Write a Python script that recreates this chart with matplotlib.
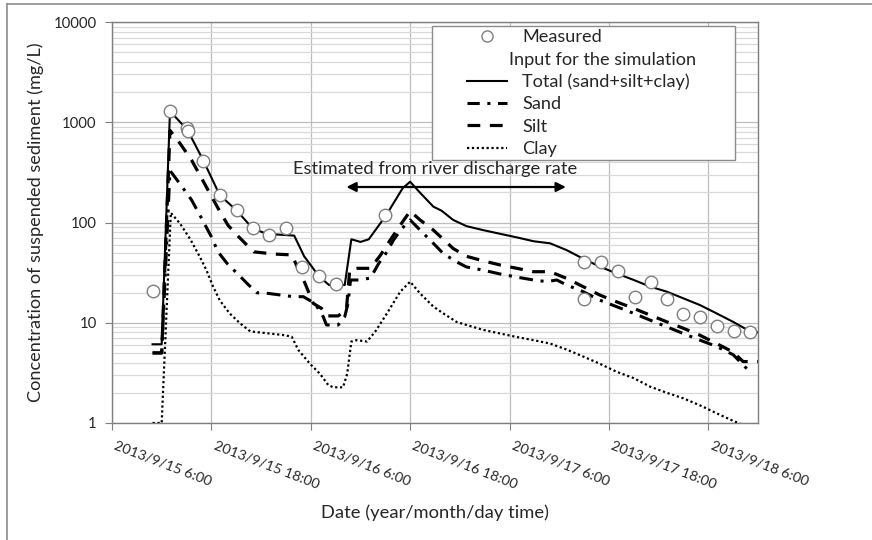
import matplotlib
matplotlib.use('Agg')
import matplotlib.pyplot as plt
from matplotlib.lines import Line2D
from matplotlib.patches import Rectangle
from matplotlib.ticker import FixedLocator, LogLocator, NullFormatter
import matplotlib.transforms as mtransforms

plt.rcParams['font.family'] = ['Lato', 'DejaVu Sans']

# time axis: hours since 2013/9/15 6:00
tick_hours = [0, 12, 24, 36, 48, 60, 72]
tick_labels = ['2013/9/15 6:00', '2013/9/15 18:00', '2013/9/16 6:00', '2013/9/16 18:00',
               '2013/9/17 6:00', '2013/9/17 18:00', '2013/9/18 6:00']
y_ticks = [1, 10, 100, 1000, 10000]
y_tick_labels = ['1', '10', '100', '1000', '10000']

meas_h = [5.0, 7.0, 9.0, 9.2, 11.0, 13.0, 15.1, 17.0, 19.0, 21.0, 23.0, 25.0, 27.1, 33.0,
          57.0, 57.0, 59.0, 61.1, 63.1, 65.1, 67.0, 69.0, 71.0, 73.1, 75.1, 77.0]
meas_v = [20.7, 1295, 880, 810, 411, 188, 133, 88, 75, 88, 36, 29, 24.4, 119,
          40.4, 17.4, 40.4, 32.6, 18.2, 25.5, 17.4, 12.2, 11.3, 9.3, 8.3, 8.0]

total_h = [4.9, 6.0, 7.0, 9.1, 11.0, 13.0, 15.0, 17.0, 18.7, 22.0, 23.2, 25.0, 26.2, 28.1,
           28.9, 30.0, 31.0, 33.1, 35.1, 36.0, 37.2, 38.8, 39.8, 41.2, 42.8, 44.8, 46.9,
           48.9, 50.9, 52.9, 54.9, 56.9, 58.9, 60.9, 63.0, 65.0, 67.0, 69.0, 71.0, 73.0,
           75.0, 76.7, 78.0]
total_v = [6.1, 6.1, 1290, 840, 420, 188, 133, 87, 77, 74, 46, 29, 23.8, 23.8,
           68, 64, 68, 118, 220, 255, 198, 144, 131, 106, 92, 84, 77,
           71, 65, 62, 53, 43.5, 36.3, 31.1, 26.7, 22.9, 20.4, 17.5, 15.0, 12.4,
           10.2, 8.5, 8.0]

silt_h = [4.9, 6.0, 7.0, 8.2, 9.6, 10.6, 11.8, 12.8, 14.0, 15.3, 17.1, 19.5, 21.7, 22.6,
          23.3, 24.3, 25.3, 25.9, 27.3, 28.3, 28.7, 29.6, 31.2, 32.4, 33.6, 34.8, 36.0,
          37.2, 38.8, 40.0, 41.2, 42.8, 44.8, 46.9, 48.9, 50.9, 52.9, 54.9, 56.9, 58.9,
          60.9, 63.0, 65.0, 67.0, 69.0, 71.0, 73.0, 75.0, 76.2, 78.0]
silt_v = [5.0, 5.0, 830, 617, 420, 298, 196, 139, 94, 72, 51, 48.5, 47.5, 33,
          24.8, 15.6, 13.9, 11.7, 11.7, 13.4, 33.6, 34.9, 34.9, 47, 67, 94, 130,
          106, 84, 68, 55, 46, 41.5, 37.6, 34.9, 32.3, 32.3, 27.7, 22.9, 18.9,
          16.2, 13.9, 11.9, 10.2, 8.8, 7.5, 6.2, 5.1, 4.1, 4.1]

sand_h = [4.9, 6.0, 7.0, 8.4, 9.6, 10.6, 12.0, 12.8, 13.9, 15.3, 16.5, 17.5, 18.9, 21.9,
          23.1, 24.5, 25.5, 25.9, 27.3, 28.1, 28.5, 28.8, 29.8, 31.2, 32.2, 33.2, 34.0,
          35.0, 36.0, 37.2, 38.8, 40.0, 41.6, 42.8, 44.8, 46.9, 48.9, 50.9, 52.5, 53.7,
          54.9, 56.9, 58.9, 60.9, 63.0, 65.0, 67.0, 69.0, 71.0, 73.0, 75.0, 77.0]
sand_v = [5.0, 5.0, 330, 231, 168, 119, 72, 51, 39, 30, 23.8, 19.9, 19.6, 18.2,
          18.2, 15.6, 11.5, 9.5, 9.5, 11.5, 15.6, 26.7, 26.7, 27.9, 39, 51, 67,
          87, 106, 84, 62, 49, 40.5, 36, 33.5, 30.6, 28.5, 26.7, 25.7, 26.7,
          23.8, 20.4, 16.8, 14.5, 12.4, 10.6, 9.1, 7.8, 6.7, 5.8, 4.8, 3.25]

clay_h = [4.9, 6.0, 7.1, 8.2, 9.5, 10.6, 11.4, 12.2, 13.0, 14.2, 15.5, 16.7, 19.1, 20.9,
          21.7, 22.5, 23.9, 25.1, 26.1, 26.7, 27.9, 28.4, 28.9, 29.5, 30.8, 31.8, 33.2,
          34.8, 36.0, 37.2, 38.8, 40.0, 41.6, 42.8, 44.8, 46.9, 48.9, 50.9, 52.9, 54.9,
          56.9, 58.9, 60.9, 63.0, 65.0, 67.0, 69.0, 71.0, 73.0, 75.0, 76.0]
clay_v = [1.0, 1.0, 125, 98, 67, 45.5, 33.5, 23, 16.8, 12.4, 9.8, 8.2, 7.8, 7.5,
          7.25, 5.35, 3.9, 3.1, 2.4, 2.27, 2.27, 3.1, 6.5, 6.7, 6.5, 8.2, 12.4,
          20.4, 25.7, 19.6, 14.5, 12.4, 10.2, 9.5, 8.5, 7.8, 7.2, 6.7, 6.2, 5.4,
          4.6, 3.9, 3.25, 2.8, 2.3, 2.0, 1.76, 1.5, 1.25, 1.05, 0.97]

arrow_h = [28.3, 54.8]
arrow_v = 226
note_h = 39.0
note_v = 340

fig = plt.figure(figsize=(8.72, 5.40), dpi=100)
ax = fig.add_axes([112/872, 1-423/540, (758-112)/872, (423-22)/540])

ax.set_yscale('log')
ax.set_ylim(1, 10000)
ax.set_xlim(0, 78)

ax.yaxis.set_major_locator(FixedLocator(y_ticks))
ax.set_yticklabels(y_tick_labels)
ax.yaxis.set_minor_locator(LogLocator(base=10, subs=range(2, 10)))
ax.yaxis.set_minor_formatter(NullFormatter())
ax.set_xticks(tick_hours)
ax.set_xticklabels(tick_labels, rotation=-21, ha='left', va='top', rotation_mode='anchor')

ax.grid(which='minor', axis='y', color='#d9d9d9', lw=0.9)
ax.grid(which='major', axis='y', color='#bdbdbd', lw=0.9)
ax.grid(which='major', axis='x', color='#bdbdbd', lw=0.9)
ax.set_axisbelow(True)
ax.tick_params(which='minor', length=0)
ax.tick_params(which='major', length=5, color='#7f7f7f', labelcolor='#262626')
ax.tick_params(axis='y', pad=6, labelsize=10.7)
ax.tick_params(axis='x', pad=7, labelsize=10.4)
for lab in ax.get_xticklabels():
    lab.set_transform(lab.get_transform() + mtransforms.ScaledTranslation(5/100, 0, fig.dpi_scale_trans))
for s in ax.spines.values():
    s.set_color('#7f7f7f')
    s.set_linewidth(1.0)

ax.plot(total_h, total_v, color='black', lw=1.5, zorder=3)
ax.plot(sand_h, sand_v, color='black', lw=2.2, dashes=(4.5, 2.5, 1, 2.5), zorder=3)
ax.plot(silt_h, silt_v, color='black', lw=2.3, dashes=(4, 3), zorder=3)
ax.plot(clay_h, clay_v, color='black', lw=1.6, dashes=(1, 1.2), zorder=3)
ax.plot(meas_h, meas_v, ls='none', marker='o', ms=9, mfc='white', mec='#7f7f7f', mew=1.0, zorder=4)

ax.annotate('', xy=(arrow_h[0], arrow_v), xytext=(arrow_h[1], arrow_v),
            arrowprops=dict(arrowstyle='<|-|>', color='black', lw=1.6, mutation_scale=14,
                            shrinkA=0, shrinkB=0), zorder=5)
ax.text(note_h, note_v, 'Estimated from river discharge rate', ha='center', va='center',
        fontsize=13.2, color='#262626', zorder=5)

ylab = ax.set_ylabel('Concentration of suspended sediment (mg/L)', fontsize=13.1, color='#262626')
ax.yaxis.set_label_coords(-(112-27)/646, 0.5)
ylab.set_va('top')
ax.set_xlabel('Date (year/month/day time)', fontsize=13.2, color='#262626')
ax.xaxis.set_label_coords((435-112)/646, (423-504)/401)

# legend
box = Rectangle(((432-112)/646, (423-160)/401), (735-432)/646, (160-26)/401,
                transform=ax.transAxes, facecolor='white', edgecolor='#8c8c8c', lw=1.0, zorder=6)
ax.add_patch(box)
handles = [
    Line2D([], [], ls='none', marker='o', ms=8, mfc='white', mec='#7f7f7f'),
    Line2D([], [], ls='none'),
    Line2D([], [], color='black', lw=1.5),
    Line2D([], [], color='black', lw=2.2, dashes=(4, 2.5, 1, 2.5)),
    Line2D([], [], color='black', lw=2.3, dashes=(4, 3)),
    Line2D([], [], color='black', lw=1.6, dashes=(1, 1.2)),
]
labels = ['Measured', ' ', 'Total (sand+silt+clay)', 'Sand', 'Silt', 'Clay']
leg = ax.legend(handles, labels, loc='upper left', bbox_to_anchor=((467-112)/646, (423-29)/401),
                frameon=False, borderpad=0, borderaxespad=0, handlelength=2.2, handletextpad=0.85,
                labelspacing=0.345, fontsize=13.1)
leg.set_zorder(7)
for t in leg.get_texts():
    t.set_color('#262626')
ax.text((509-112)/646, (423-60)/401, 'Input for the simulation', transform=ax.transAxes,
        ha='left', va='center', fontsize=13.1, color='#262626', zorder=8)

# figure border (top and left)
fig.add_artist(Line2D([7/872, 1], [1-4/540, 1-4/540], color='#8c8c8c', lw=1.2, transform=fig.transFigure))
fig.add_artist(Line2D([7/872, 7/872], [0, 1-4/540], color='#8c8c8c', lw=1.2, transform=fig.transFigure))

fig.savefig('out.png', dpi=100)
